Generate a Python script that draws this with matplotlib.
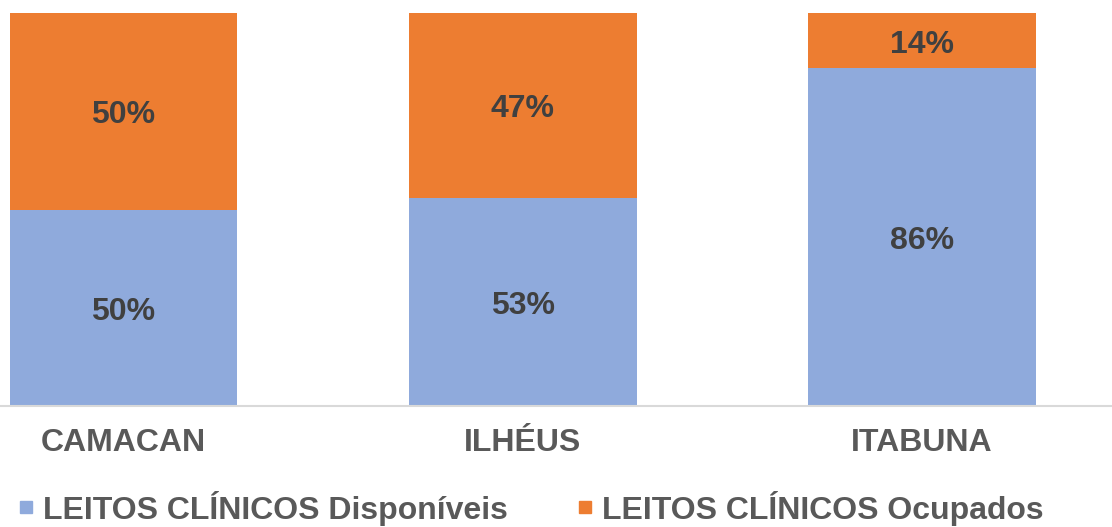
import matplotlib
matplotlib.use("Agg")
import matplotlib.pyplot as plt
from matplotlib.lines import Line2D

categories = ["CAMACAN", "ILHÉUS", "ITABUNA"]
disponiveis = [50, 53, 86]
ocupados = [50, 47, 14]
series_names = ["LEITOS CLÍNICOS Disponíveis", "LEITOS CLÍNICOS Ocupados"]
colors = ["#8FAADC", "#ED7D31"]

plt.rcParams['font.family'] = ['Liberation Sans', 'DejaVu Sans']

fig = plt.figure(figsize=(11.12, 5.27), dpi=100)
ax = fig.add_axes([0, (527 - 406) / 527, 1, (406 - 13) / 527])

x = list(range(len(categories)))
w = 0.571
ax.bar(x, disponiveis, width=w, color=colors[0], label=series_names[0])
ax.bar(x, ocupados, width=w, bottom=disponiveis, color=colors[1], label=series_names[1])

for i in x:
    ax.annotate(f"{disponiveis[i]}%", (i, disponiveis[i] / 2), xytext=(0, -4),
                textcoords='offset pixels', ha='center', va='center',
                fontsize=23, fontweight='bold', color='#404040')
    ax.annotate(f"{ocupados[i]}%", (i, disponiveis[i] + ocupados[i] / 2), xytext=(0, -4),
                textcoords='offset pixels', ha='center', va='center',
                fontsize=23, fontweight='bold', color='#404040')

ax.set_xlim(-123.5 / 399.25, (1112 - 123.5) / 399.25)
ax.set_ylim(0, 100)
ax.set_yticks([])
ax.set_xticks(x)
ax.set_xticklabels(categories, fontsize=23, fontweight='bold', color='#595959')
ax.tick_params(axis='x', length=0, pad=16)
for s in ['top', 'right', 'left']:
    ax.spines[s].set_visible(False)
ax.spines['bottom'].set_color('#D9D9D9')
ax.spines['bottom'].set_linewidth(1.5)

handles = [Line2D([], [], marker='s', linestyle='none', markersize=9, color=c) for c in colors]
leg = fig.legend(handles, series_names, loc='center', bbox_to_anchor=(0.4775, (527 - 508) / 527),
                 ncol=2, frameon=False, handlelength=0.45, handletextpad=0.3, columnspacing=2.2,
                 prop={'size': 23, 'weight': 'bold'})
for t in leg.get_texts():
    t.set_color('#595959')

fig.savefig("out.png", dpi=100)
